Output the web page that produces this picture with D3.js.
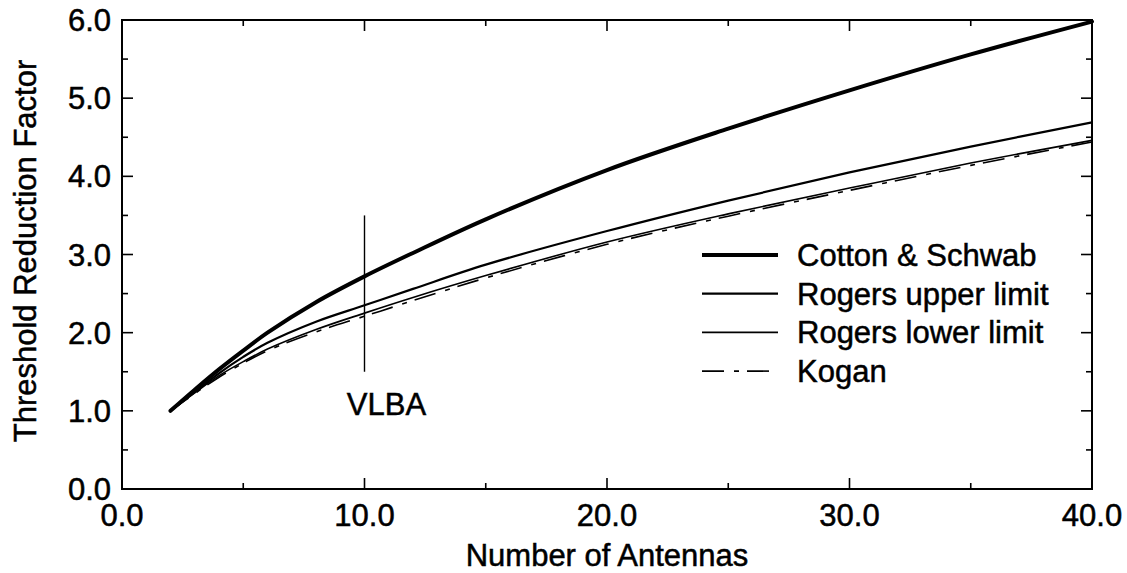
<!DOCTYPE html>
<html>
<head>
<meta charset="utf-8">
<script src="https://cdn.jsdelivr.net/npm/d3@7"></script>
<style>
  html, body { margin: 0; padding: 0; background: #fff; }
  svg { display: block; font-family: 'Liberation Sans', Arial, sans-serif; }
  svg text { fill: #000; stroke: #000; stroke-width: 0.5px; }
</style>
</head>
<body>
<div id="chart"></div>
<script>
// values
const antennas = [2, 3, 4, 5, 6, 8, 10, 12, 15, 20, 25, 30, 35, 40]
const cottonSchwab = [1.0, 1.27, 1.53, 1.77, 2.0, 2.39, 2.72, 3.02, 3.45, 4.08, 4.61, 5.1, 5.56, 5.98]
const rogersUpper = [1.0, 1.24, 1.48, 1.69, 1.87, 2.14, 2.35, 2.56, 2.87, 3.3, 3.69, 4.05, 4.38, 4.69]
const rogersLower = [1.0, 1.23, 1.45, 1.63, 1.79, 2.04, 2.25, 2.45, 2.73, 3.16, 3.52, 3.85, 4.17, 4.46]
const kogan = [1.0, 1.22, 1.43, 1.61, 1.77, 2.01, 2.21, 2.41, 2.7, 3.13, 3.49, 3.82, 4.14, 4.44]

const xMajor = [0, 10, 20, 30, 40]
const xMinor = [5, 15, 25, 35]
const yMajor = [0, 1, 2, 3, 4, 5, 6]
const yMinor = [0.5, 1.5, 2.5, 3.5, 4.5, 5.5]

const vlba = { x: 10, y0: 1.5, y1: 3.5, label: 'VLBA' }

const series = [
  { name: 'Cotton & Schwab', values: cottonSchwab, width: 4, dash: null },
  { name: 'Rogers upper limit', values: rogersUpper, width: 2.2, dash: null },
  { name: 'Rogers lower limit', values: rogersLower, width: 1.6, dash: null },
  { name: 'Kogan', values: kogan, width: 1.6, dash: '22,10,5,8' },
]

const width = 1127
const height = 573
const margin = { top: 20, right: 35, bottom: 84, left: 122 }
const font = 31

const x = d3.scaleLinear().domain([0, 40]).range([margin.left, width - margin.right])
const y = d3.scaleLinear().domain([0, 6]).range([height - margin.bottom, margin.top])

const svg = d3.select('#chart').append('svg')
  .attr('width', width)
  .attr('height', height)
  .attr('viewBox', [0, 0, width, height])

// frame
svg.append('rect')
  .attr('x', x(0)).attr('y', y(6))
  .attr('width', x(40) - x(0)).attr('height', y(0) - y(6))
  .attr('fill', 'none').attr('stroke', '#000').attr('stroke-width', 2)

const fmt = d3.format('.1f')

// inward ticks on all four sides
const tickLen = (major) => (major ? 11 : 6)
const drawXTicks = (vals, major) => {
  vals.forEach((v) => {
    if (v === 0 || v === 40) return
    svg.append('line').attr('x1', x(v)).attr('x2', x(v))
      .attr('y1', y(0)).attr('y2', y(0) - tickLen(major))
      .attr('stroke', '#000').attr('stroke-width', 1.6)
    svg.append('line').attr('x1', x(v)).attr('x2', x(v))
      .attr('y1', y(6)).attr('y2', y(6) + tickLen(major))
      .attr('stroke', '#000').attr('stroke-width', 1.6)
  })
}
const drawYTicks = (vals, major) => {
  vals.forEach((v) => {
    if (v === 0 || v === 6) return
    svg.append('line').attr('x1', x(0)).attr('x2', x(0) + tickLen(major))
      .attr('y1', y(v)).attr('y2', y(v))
      .attr('stroke', '#000').attr('stroke-width', 1.6)
    svg.append('line').attr('x1', x(40)).attr('x2', x(40) - tickLen(major))
      .attr('y1', y(v)).attr('y2', y(v))
      .attr('stroke', '#000').attr('stroke-width', 1.6)
  })
}
drawXTicks(xMajor, true)
drawXTicks(xMinor, false)
drawYTicks(yMajor, true)
drawYTicks(yMinor, false)

// tick labels
svg.append('g').selectAll('text').data(xMajor).join('text')
  .attr('x', (d) => x(d)).attr('y', y(0) + 37)
  .attr('text-anchor', 'middle').attr('font-size', font)
  .text(fmt)

svg.append('g').selectAll('text').data(yMajor).join('text')
  .attr('x', x(0) - 11).attr('y', (d) => y(d) + 11)
  .attr('text-anchor', 'end').attr('font-size', font)
  .text(fmt)

// axis titles
svg.append('text')
  .attr('x', x(20)).attr('y', 566)
  .attr('text-anchor', 'middle').attr('font-size', font)
  .text('Number of Antennas')

svg.append('text')
  .attr('transform', `translate(36,251) rotate(-90)`)
  .attr('text-anchor', 'middle').attr('font-size', font)
  .text('Threshold Reduction Factor')

// curves
const line = d3.line()
  .x((d) => x(d[0]))
  .y((d) => y(d[1]))
  .curve(d3.curveCatmullRom.alpha(0.5))

series.forEach((s) => {
  svg.append('path')
    .datum(antennas.map((n, i) => [n, s.values[i]]))
    .attr('d', line)
    .attr('fill', 'none')
    .attr('stroke', '#000')
    .attr('stroke-width', s.width)
    .attr('stroke-linecap', s.width > 3 ? 'round' : 'butt')
    .attr('stroke-dasharray', s.dash)
})

// VLBA marker
svg.append('line')
  .attr('x1', x(vlba.x)).attr('x2', x(vlba.x))
  .attr('y1', y(vlba.y0)).attr('y2', y(vlba.y1))
  .attr('stroke', '#000').attr('stroke-width', 1.4)
svg.append('text')
  .attr('x', x(vlba.x) + 22).attr('y', y(vlba.y0) + 43)
  .attr('text-anchor', 'middle').attr('font-size', font)
  .text(vlba.label)

// legend
const legend = svg.append('g').attr('transform', 'translate(702,255)')
series.forEach((s, i) => {
  const g = legend.append('g').attr('transform', `translate(0,${i * 38.7})`)
  g.append('line').attr('x1', 0).attr('x2', 76).attr('y1', 0).attr('y2', 0)
    .attr('stroke', '#000').attr('stroke-width', s.width)
    .attr('stroke-dasharray', s.dash)
  g.append('text').attr('x', 95).attr('y', 11)
    .attr('font-size', font).text(s.name)
})
</script>
</body>
</html>
